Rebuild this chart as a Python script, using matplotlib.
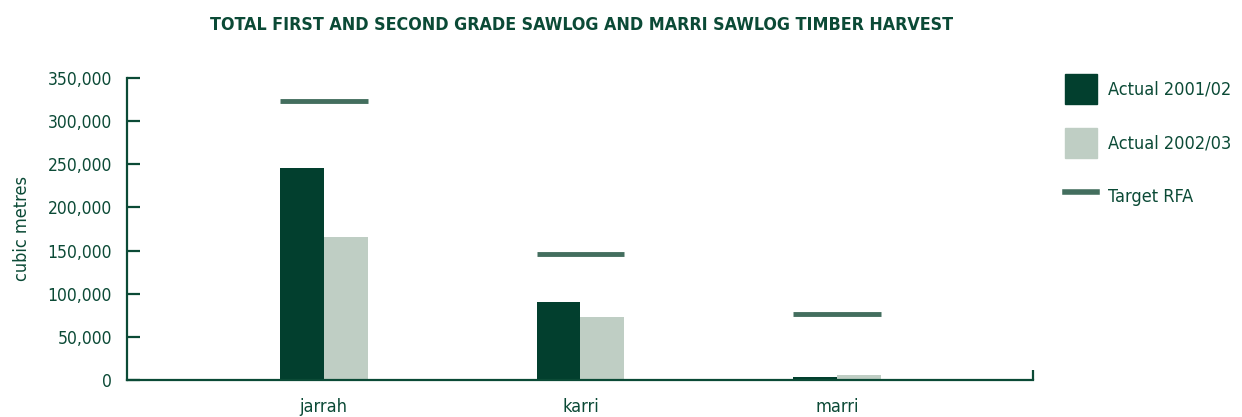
import matplotlib
matplotlib.use("Agg")
import matplotlib.pyplot as plt
from matplotlib.patches import Patch
from matplotlib.lines import Line2D
from matplotlib.ticker import FuncFormatter
import numpy as np

# harvest volumes, cubic metres
species = ["jarrah", "karri", "marri"]
actual_2001_02 = [246000, 90000, 3500]
actual_2002_03 = [166000, 73000, 5500]
target_rfa = [323000, 146000, 76000]

dark = "#023f2e"
light = "#bfcec4"
target_col = "#436e5e"
text_col = "#0b4a36"

plt.rcParams["font.family"] = ["DejaVu Sans"]
plt.rcParams["font.stretch"] = "condensed"

fig = plt.figure(figsize=(12.42, 4.17), dpi=100)
ax = fig.add_axes([0.1023, 0.0887, 0.7294, 0.7243])

x = np.arange(len(species))
w = 0.171
ax.bar(x - w / 2, actual_2001_02, w, color=dark, zorder=2)
ax.bar(x + w / 2, actual_2002_03, w, color=light, zorder=2)
ax.hlines(target_rfa, x - w, x + w, colors=target_col, lw=3.5, zorder=3)

ax.set_xlim(-0.766, 2.763)
ax.set_ylim(0, 350000)
ax.set_yticks(np.arange(0, 350001, 50000))
ax.yaxis.set_major_formatter(FuncFormatter(lambda v, p: f"{int(v):,}"))
ax.set_xticks(x, species)
ax.set_xticks([2.763], minor=True)

for s in ["top", "right"]:
    ax.spines[s].set_visible(False)
for s in ["left", "bottom"]:
    ax.spines[s].set_color(text_col)
    ax.spines[s].set_linewidth(1.6)

ax.tick_params(axis="y", direction="in", length=9, width=1.6, color=text_col,
               labelcolor=text_col, labelsize=12.5, pad=11)
ax.tick_params(axis="x", which="major", length=0, labelcolor=text_col,
               labelsize=13, pad=13)
ax.tick_params(axis="x", which="minor", direction="in", length=7, width=1.6,
               color=text_col)

ax.set_ylabel("cubic metres", color=text_col, fontsize=13, labelpad=12)

fig.text(0.468, 0.94, "TOTAL FIRST AND SECOND GRADE SAWLOG AND MARRI SAWLOG TIMBER HARVEST",
         ha="center", va="center", fontsize=12.8, fontweight="bold", color=text_col)

handles = [Patch(color=dark), Patch(color=light), Line2D([], [], color=target_col, lw=4)]
labels = ["Actual 2001/02", "Actual 2002/03", "Target RFA"]
leg = fig.legend(handles, labels, loc="upper left", bbox_to_anchor=(0.8575, 0.8225),
                 frameon=False, fontsize=13, handlelength=1.75, handleheight=2.2,
                 labelspacing=1.3, handletextpad=0.65, borderaxespad=0, borderpad=0)
for t in leg.get_texts():
    t.set_color(text_col)

fig.savefig("out.png", dpi=100)
